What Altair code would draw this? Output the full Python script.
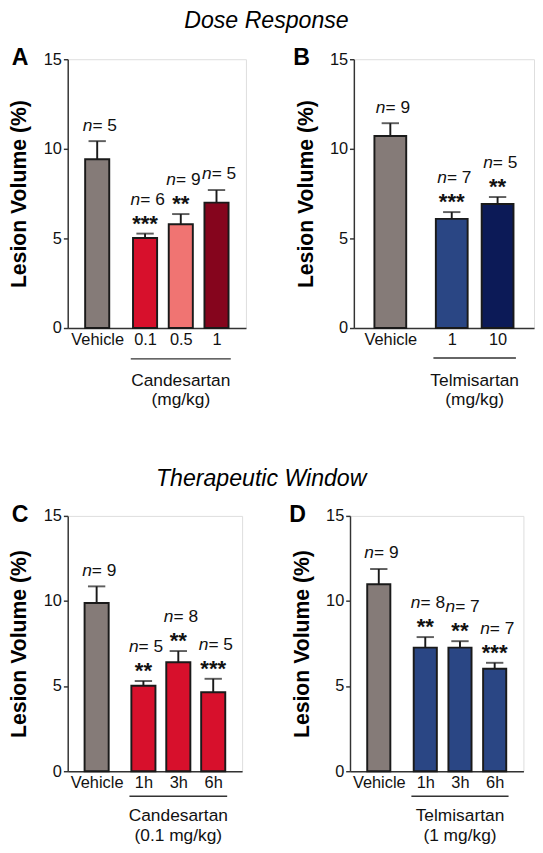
import altair as alt
import pandas as pd

FONT = "Liberation Sans"

# ---------------- data ----------------
# Panel A: Candesartan dose response
a_groups = ["Vehicle", "0.1", "0.5", "1"]
a_mean = [9.42, 5.02, 5.79, 7.00]
a_err = [10.43, 5.27, 6.36, 7.70]      # mean + SEM
a_n = [5, 6, 9, 5]
a_sig = ["", "***", "**", ""]
a_colors = ["#857b78", "#d7102c", "#f07472", "#85051d"]

# Panel B: Telmisartan dose response
b_groups = ["Vehicle", "1", "10"]
b_mean = [10.72, 6.09, 6.92]
b_err = [11.43, 6.47, 7.31]
b_n = [9, 7, 5]
b_sig = ["", "***", "**"]
b_colors = ["#857b78", "#2a4684", "#0c1a57"]

# Panel C: Candesartan therapeutic window
c_groups = ["Vehicle", "1h", "3h", "6h"]
c_mean = [9.88, 5.02, 6.40, 4.64]
c_err = [10.86, 5.30, 7.06, 5.43]
c_n = [9, 5, 8, 5]
c_sig = ["", "**", "**", "***"]
c_colors = ["#857b78", "#d7102c", "#d7102c", "#d7102c"]

# Panel D: Telmisartan therapeutic window
d_groups = ["Vehicle", "1h", "3h", "6h"]
d_mean = [10.98, 7.26, 7.26, 6.02]
d_err = [11.88, 7.88, 7.64, 6.37]
d_n = [9, 8, 7, 7]
d_sig = ["", "**", "**", "***"]
d_colors = ["#857b78", "#2a4684", "#2a4684", "#2a4684"]

y_ticks = [0, 5, 10, 15]
INK = "#1a1a1a"
LABEL_SIZE = 17


def panel(letter, groups, mean, err, n, sig, colors, group_label,
          width, height, bar_w, ul_off, gl_off, gl_lh, letter_dx):
    gap = 0.34
    pos = [0.0] + [i + gap for i in range(1, len(groups))]
    df = pd.DataFrame({
        "g": groups, "pos": pos, "mean": mean, "err": err,
        "nt": [f"= {k}" for k in n], "sig": sig, "color": colors,
        "hasSig": [s != "" for s in sig],
    })
    xs = alt.Scale(domain=[-0.69, pos[-1] + 0.69], nice=False, zero=False)
    ys = alt.Scale(domain=[0, 15], nice=False)
    label_expr = " : ".join(
        f"abs(datum.value - {p}) < 0.01 ? '{g}'" for p, g in zip(pos, groups)
    ) + " : ''"

    x_axis = alt.Axis(values=pos, labelExpr=label_expr, title=None, ticks=False,
                      grid=False, labelFontSize=LABEL_SIZE, labelPadding=4, labelFont=FONT,
                      labelColor="#111", domainColor="#333", domainWidth=1.5,
                      labelAngle=0)
    y_axis = alt.Axis(values=y_ticks, title="Lesion Volume (%)", grid=False,
                      tickSize=4.5, tickWidth=1.5, tickColor="#333",
                      domainColor="#333", domainWidth=1.5,
                      labelFontSize=LABEL_SIZE, labelFont=FONT, labelColor="#111",
                      labelPadding=2, titleFont=FONT, titleFontSize=22,
                      titleFontWeight="bold", titleColor="#000", titlePadding=13)

    def X(field):
        return alt.X(field, scale=xs, axis=x_axis)

    def Y(field):
        return alt.Y(field, scale=ys, axis=y_axis)

    base = alt.Chart(df)

    bars = base.mark_bar(size=bar_w, stroke=INK, strokeWidth=2).encode(
        x=X("pos:Q"), y=Y("mean:Q"),
        color=alt.Color("color:N", scale=None),
    )
    err_rule = base.mark_rule(strokeWidth=2, color=INK).encode(
        x=X("pos:Q"), y=Y("mean:Q"), y2="err:Q"
    )
    cap = base.mark_tick(orient="horizontal", size=18, thickness=2, color=INK).encode(
        x=X("pos:Q"), y=Y("err:Q")
    )
    stars = base.mark_text(font=FONT, fontSize=23, fontWeight="bold", color="#111",
                           baseline="alphabetic", dy=-3).encode(
        x=X("pos:Q"), y=Y("err:Q"), text="sig:N"
    )
    n_layers = []
    for flag, dy in [(True, -30), (False, -11)]:
        sub = base.transform_filter(
            "datum.hasSig" if flag else "!datum.hasSig"
        )
        n_layers.append(sub.mark_text(font=FONT, fontSize=18, fontStyle="italic",
                                      align="right", baseline="alphabetic",
                                      dx=-5, dy=dy, color="#111").encode(
            x=X("pos:Q"), y=Y("err:Q"), text=alt.value("n")))
        n_layers.append(sub.mark_text(font=FONT, fontSize=18, align="left",
                                      baseline="alphabetic", dx=-5, dy=dy,
                                      color="#111").encode(
            x=X("pos:Q"), y=Y("err:Q"), text="nt:N"))

    gdf = pd.DataFrame({"first": [pos[1]], "last": [pos[-1]],
                        "label": [group_label]})
    gbase = alt.Chart(gdf).transform_calculate(
        x1="datum.first - 0.4", x2="datum.last + 0.4",
        xc="(datum.first + datum.last) / 2")
    underline = gbase.mark_rule(strokeWidth=1.5, color="#333").encode(
        x=X("x1:Q"), x2="x2:Q", y=alt.value(height + ul_off),
    )
    glabel = gbase.mark_text(font=FONT, fontSize=18, lineBreak="\n",
                             baseline="top", lineHeight=gl_lh, color="#111").encode(
        x=X("xc:Q"), y=alt.value(height + gl_off), text="label:N")

    return alt.layer(bars, err_rule, cap, stars, *n_layers, underline, glabel).properties(
        width=width, height=height,
        title=alt.TitleParams(letter, anchor="start", frame="group", dx=letter_dx, dy=24,
                              fontSize=24, fontWeight="bold", font=FONT, color="#000"),
    )


pA = panel("A", a_groups, a_mean, a_err, a_n, a_sig, a_colors, "Candesartan\n(mg/kg)",
           185, 279, 25, 32, 46, 20, -58)
pB = panel("B", b_groups, b_mean, b_err, b_n, b_sig, b_colors, "Telmisartan\n(mg/kg)",
           187, 279, 33, 31, 46, 20, -63)
pC = panel("C", c_groups, c_mean, c_err, c_n, c_sig, c_colors, "Candesartan\n(0.1 mg/kg)",
           181, 265, 25, 26, 38, 20, -58)
pD = panel("D", d_groups, d_mean, d_err, d_n, d_sig, d_colors, "Telmisartan\n(1 mg/kg)",
           180, 265, 24, 26, 38, 20, -63)

row_title = dict(anchor="middle", fontSize=24, fontStyle="italic", fontWeight="normal",
                 font=FONT, color="#000", dx=-5)

top = alt.hconcat(pA, pB, spacing=47).properties(
    title=alt.TitleParams("Dose Response", offset=14, **row_title))
bottom = alt.hconcat(pC, pD, spacing=47).properties(
    title=alt.TitleParams("Therapeutic Window", offset=13, **row_title))

chart = alt.vconcat(top, bottom, spacing=59).properties(
    padding={"top": -15, "left": 0, "right": 0, "bottom": 0}
).configure_view(
    strokeWidth=0
).configure(background="white").configure_axisX(
    labelFontSize=LABEL_SIZE, labelFont=FONT
)

chart.save("out.html", embed_options={"renderer": "svg", "actions": False})
